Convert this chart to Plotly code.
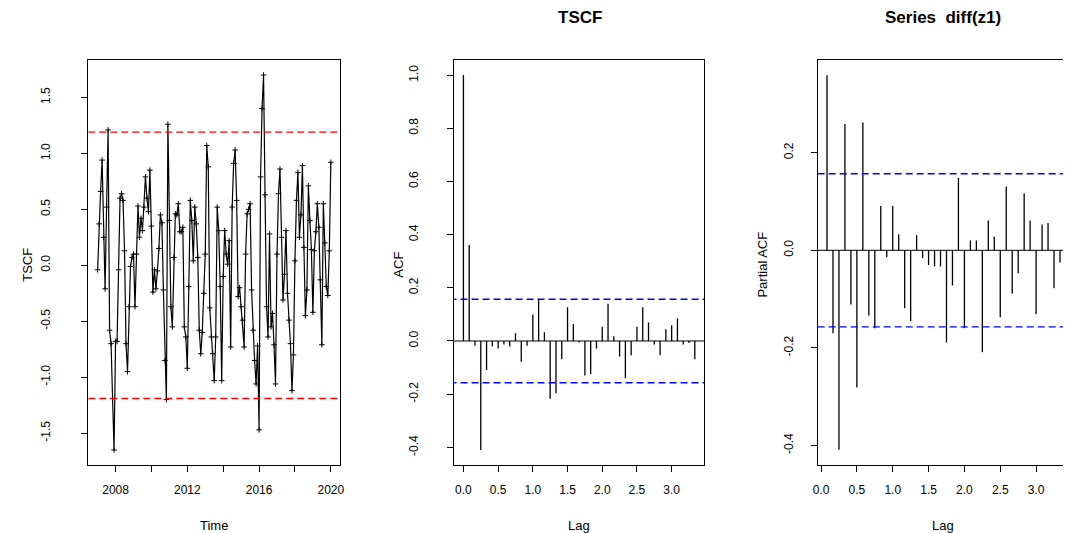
import numpy as np
import plotly.graph_objects as go

# ---------------- data ----------------
start_year = 2007.0
tscf = [
    -0.04, 0.37, 0.66, 0.94, 0.25, -0.21, 0.52, 1.21, -0.58, -0.70,
    -1.19, -1.65, -0.68, -0.68, -0.04, 0.60, 0.64, 0.58, 0.13, -0.70,
    -0.95, -0.37, -0.01, 0.07, 0.10, -0.37, 0.10, 0.53, 0.25, 0.42,
    0.31, 0.52, 0.79, 0.60, 0.48, 0.85, 0.35, -0.24, -0.04, -0.21,
    -0.05, 0.15, 0.45, 0.38, -0.22, -0.85, -1.20, 1.26, 0.40, -0.37,
    -0.55, 0.07, 0.46, 0.45, 0.55, 0.30, 0.30, 0.34, -0.55, -0.64,
    -0.92, -0.19, 0.58, 0.40, 0.04, 0.52, 0.37, 0.07, -0.58, -0.79,
    -0.60, -0.25, 0.10, 1.07, 0.88, -0.38, -0.64, -0.79, -1.03, -0.64,
    0.52, 0.31, -0.19, -1.03, -0.10, 0.31, 0.10, 0.01, 0.22, -0.73,
    0.52, 0.91, 1.03, 0.58, -0.28, -0.20, -0.37, -0.49, -0.73, 0.10,
    0.46, 0.50, 0.55, -0.22, -0.58, -0.85, -1.06, -0.72, -1.47, 0.79,
    1.40, 1.70, 0.63, -0.37, -0.64, 0.28, -0.55, -0.43, -0.71, -1.06,
    0.10, 0.64, 0.86, 0.25, -0.31, -0.08, 0.31, -0.25, -0.49, -0.70,
    -1.12, -0.80, 0.04, 0.58, 0.83, 0.25, 0.45, 0.89, 0.16, -0.45,
    -0.22, 0.71, 0.40, 0.14, -0.42, 0.13, 0.30, 0.55, 0.34, -0.13,
    -0.71, 0.55, 0.20, -0.19, -0.27, 0.13, 0.92,
]
tscf_limits = [1.19, -1.19]

acf_vals = [
    1.000, 0.361, -0.018, -0.410, -0.109, -0.021, -0.028, -0.013, -0.021, 0.029,
    -0.078, -0.018, 0.100, 0.159, 0.033, -0.217, -0.197, -0.069, 0.127, 0.064,
    -0.006, -0.130, -0.125, -0.028, 0.054, 0.140, 0.018, -0.058, -0.140, -0.054,
    0.054, 0.127, 0.070, -0.013, -0.054, 0.044, 0.059, 0.085, -0.013, -0.008,
    -0.069,
]
pacf_vals = [
    0.359, -0.170, -0.409, 0.259, -0.111, -0.281, 0.262, -0.134, -0.160, 0.091,
    -0.014, 0.091, 0.033, -0.119, -0.145, 0.031, -0.016, -0.030, -0.033, -0.033,
    -0.189, -0.072, 0.148, -0.160, 0.020, 0.020, -0.209, 0.061, 0.028, -0.137,
    0.131, -0.089, -0.047, 0.117, 0.061, -0.131, 0.053, 0.056, -0.078, -0.025,
]
ci = [0.157, -0.157]
freq = 12

time_x = [start_year + i / freq for i in range(len(tscf))]
acf_lag = [i / freq for i in range(len(acf_vals))]
pacf_lag = [(i + 1) / freq for i in range(len(pacf_vals))]

W, H = 1067, 533


def px_x(a, b):
    return [a / W, min(b / W, 1.0)]


def px_y(top, bot):
    return [1 - bot / H, 1 - top / H]


def stems(xs, ys):
    sx, sy = [], []
    for x, y in zip(xs, ys):
        sx += [x, x, None]
        sy += [0, y, None]
    return sx, sy


fig = go.Figure()
FONT = "Liberation Sans, Arial, sans-serif"
BLACK = "#000000"
DASH = "7px,4px"

# Panel 1: time series
fig.add_trace(go.Scatter(
    x=time_x, y=tscf, mode="lines+markers",
    line=dict(color=BLACK, width=1.2),
    marker=dict(symbol="cross-thin", size=4, line=dict(color=BLACK, width=1)),
    xaxis="x", yaxis="y", showlegend=False, hoverinfo="skip"))
for lv in tscf_limits:
    fig.add_trace(go.Scatter(
        x=[2006.48, 2020.52], y=[lv, lv], mode="lines",
        line=dict(color="#ff0000", width=1.4, dash=DASH),
        xaxis="x", yaxis="y", showlegend=False, hoverinfo="skip"))

# Panel 2: ACF
sx, sy = stems(acf_lag, acf_vals)
fig.add_trace(go.Scatter(x=sx, y=sy, mode="lines", line=dict(color=BLACK, width=1.3),
                         xaxis="x2", yaxis="y2", showlegend=False, hoverinfo="skip"))
fig.add_trace(go.Scatter(x=[-0.2, 3.6], y=[0, 0], mode="lines", line=dict(color=BLACK, width=1),
                         xaxis="x2", yaxis="y2", showlegend=False, hoverinfo="skip"))
for lv in ci:
    fig.add_trace(go.Scatter(x=[-0.2, 3.6], y=[lv, lv], mode="lines",
                             line=dict(color="#0000ff", width=1.4, dash=DASH),
                             xaxis="x2", yaxis="y2", showlegend=False, hoverinfo="skip"))

# Panel 3: PACF
sx, sy = stems(pacf_lag, pacf_vals)
fig.add_trace(go.Scatter(x=sx, y=sy, mode="lines", line=dict(color=BLACK, width=1.3),
                         xaxis="x3", yaxis="y3", showlegend=False, hoverinfo="skip"))
fig.add_trace(go.Scatter(x=[-0.2, 3.6], y=[0, 0], mode="lines", line=dict(color=BLACK, width=1),
                         xaxis="x3", yaxis="y3", showlegend=False, hoverinfo="skip"))
for lv in ci:
    fig.add_trace(go.Scatter(x=[-0.2, 3.6], y=[lv, lv], mode="lines",
                             line=dict(color="#0000ff", width=1.4, dash=DASH),
                             xaxis="x3", yaxis="y3", showlegend=False, hoverinfo="skip"))

top, bot = 60, 465
common = dict(showgrid=False, zeroline=False, showline=True, linecolor=BLACK, linewidth=1,
              ticks="outside", ticklen=6, tickwidth=1, tickcolor=BLACK,
              tickfont=dict(family=FONT, size=12, color=BLACK))

fig.update_layout(
    width=W, height=H, margin=dict(l=0, r=0, t=0, b=0),
    paper_bgcolor="white", plot_bgcolor="white",
    xaxis=dict(domain=px_x(84, 338), range=[2006.48, 2020.52], anchor="y", mirror=True,
               tickvals=[2008, 2010, 2012, 2014, 2016, 2018, 2020],
               ticktext=["2008", "", "2012", "", "2016", "", "2020"],
               ticklabelstandoff=8, **common),
    yaxis=dict(domain=px_y(top, bot), range=[-1.784, 1.834], anchor="x", mirror=True,
               tickvals=[-1.5, -1.0, -0.5, 0.0, 0.5, 1.0, 1.5],
               ticktext=["-1.5", "-1.0", "-0.5", "0.0", "0.5", "1.0", "1.5"],
               tickangle=-90, ticklabelstandoff=26, **common),
    xaxis2=dict(domain=px_x(453, 705), range=[-0.1333, 3.4667], anchor="y2", mirror=True,
                tickvals=[0, 0.5, 1.0, 1.5, 2.0, 2.5, 3.0],
                ticktext=["0.0", "0.5", "1.0", "1.5", "2.0", "2.5", "3.0"],
                ticklabelstandoff=8, **common),
    yaxis2=dict(domain=px_y(top, bot), range=[-0.4664, 1.0568], anchor="x2", mirror=True,
                tickvals=[-0.4, -0.2, 0.0, 0.2, 0.4, 0.6, 0.8, 1.0],
                ticktext=["-0.4", "-0.2", "0.0", "0.2", "0.4", "0.6", "0.8", "1.0"],
                tickangle=-90, ticklabelstandoff=24, **common),
    xaxis3=dict(domain=px_x(819.6, 1067), range=[-0.0467, -0.0467 + (1067 - 819.6) / 72.3],
                anchor="y3", mirror=True,
                tickvals=[0, 0.5, 1.0, 1.5, 2.0, 2.5, 3.0],
                ticktext=["0.0", "0.5", "1.0", "1.5", "2.0", "2.5", "3.0"],
                ticklabelstandoff=8, **common),
    yaxis3=dict(domain=px_y(top, bot), range=[-0.44, 0.39], anchor="x3", mirror=False,
                tickvals=[-0.4, -0.2, 0.0, 0.2],
                ticktext=["-0.4", "-0.2", "0.0", "0.2"],
                tickangle=-90, ticklabelstandoff=13, **common),
)


def ann(text, x, y, size=13, bold=False, angle=0):
    fig.add_annotation(text=f"<b>{text}</b>" if bold else text,
                       x=x / W, y=1 - y / H, xref="paper", yref="paper",
                       showarrow=False, textangle=angle,
                       font=dict(family=FONT, size=size, color=BLACK),
                       xanchor="center", yanchor="middle")


ann("TSCF", 580, 18, size=17, bold=True)
ann("Series\u00a0 diff(z1)", 946, 18, size=17, bold=True)
ann("Time", 211, 525)
ann("Lag", 579, 525)
ann("Lag", 946, 525)
ann("TSCF", 22, 265, angle=-90)
ann("ACF", 396, 265, angle=-90)
ann("Partial ACF", 763, 265, angle=-90)

fig.write_html(
    "out.html",
    config={"displayModeBar": False},
    post_script="document.body.style.margin='0';document.body.style.padding='0';"
                "document.body.style.overflow='hidden';",
)
